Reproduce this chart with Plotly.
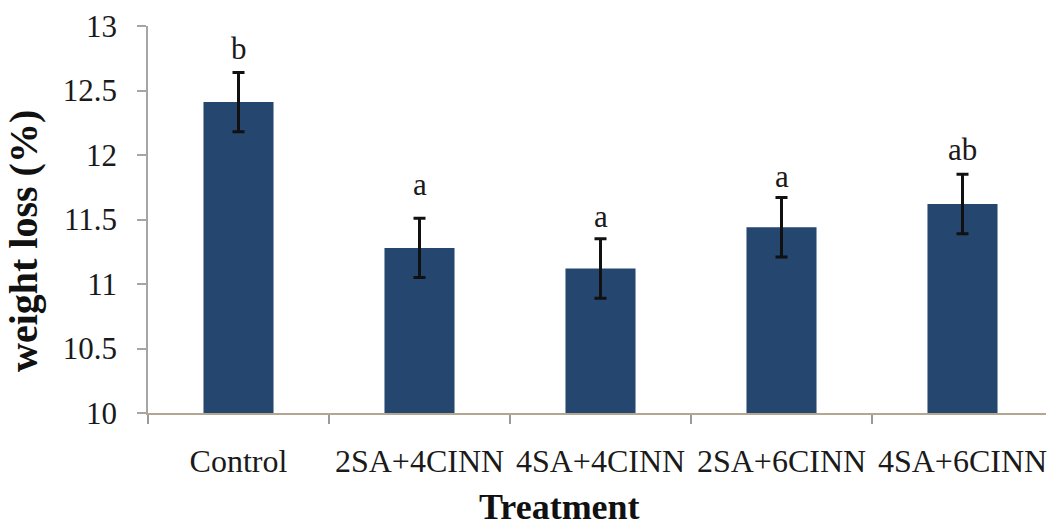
import plotly.graph_objects as go

# Mean weight loss per treatment, with standard error and significance letters
treatments = ["Control", "2SA+4CINN", "4SA+4CINN", "2SA+6CINN", "4SA+6CINN"]
weight_loss = [12.41, 11.28, 11.12, 11.44, 11.62]
std_err = [0.23, 0.23, 0.23, 0.23, 0.23]
letters = ["b", "a", "a", "a", "ab"]
y_ticks = [10, 10.5, 11, 11.5, 12, 12.5, 13]
y_tick_text = ["10", "10.5", "11", "11.5", "12", "12.5", "13"]

# Pixel gap between each error-bar cap and the centre of its letter
letter_gap_px = [24, 34, 22, 21, 25]

FONT = "Liberation Serif"
TEXT = "#1a1a1a"
BAR_COLOR = "#24466f"

fig = go.Figure()
fig.add_trace(go.Bar(
    x=treatments,
    y=weight_loss,
    marker=dict(color=BAR_COLOR, line=dict(width=0)),
    error_y=dict(type="data", array=std_err, visible=True,
                 color="#111111", thickness=3, width=6),
    showlegend=False,
))

for cat, val, err, lab, gap in zip(treatments, weight_loss, std_err, letters, letter_gap_px):
    fig.add_annotation(
        x=cat, y=val + err, text=lab, showarrow=False,
        yanchor="middle", yshift=gap,
        font=dict(family=FONT, size=31, color=TEXT),
    )

# Axis titles
fig.add_annotation(
    xref="paper", yref="paper", x=(23 - 148) / 898, y=(413 - 241) / 387,
    text="<b>weight loss (%)</b>", textangle=-90, showarrow=False,
    xanchor="center", yanchor="middle",
    font=dict(family=FONT, size=40, color="#111111"),
)
fig.add_annotation(
    xref="paper", yref="paper", x=(559 - 148) / 898, y=-(507 - 413) / 387,
    text="<b>Treatment</b>", showarrow=False,
    xanchor="center", yanchor="middle",
    font=dict(family=FONT, size=36, color="#111111"),
)

fig.update_layout(
    template="none",
    width=1048, height=528,
    margin=dict(l=148, r=2, t=26, b=115, autoexpand=False),
    paper_bgcolor="white", plot_bgcolor="white",
    bargap=0.613,
    font=dict(family=FONT, size=30, color=TEXT),
)
fig.update_xaxes(
    range=[-0.5, -0.5 + 898 / 181],
    showline=True, linecolor="#b3a792", linewidth=1.5,
    ticks="outside", tickson="boundaries", ticklen=9, tickcolor="#9a9a9a",
    tickwidth=1.5, showgrid=False, zeroline=False,
    tickangle=0,
    tickfont=dict(family=FONT, size=32, color=TEXT),
    ticklabelstandoff=19,
)
fig.update_yaxes(
    range=[10, 13], tickvals=y_ticks, ticktext=y_tick_text,
    showline=True, linecolor="#a5a5a5", linewidth=1.5,
    ticks="outside", ticklen=9, tickcolor="#a5a5a5", tickwidth=1.5,
    showgrid=False, zeroline=False,
    tickfont=dict(family=FONT, size=31, color=TEXT),
    ticklabelstandoff=14,
)

fig.write_html("out.html")
